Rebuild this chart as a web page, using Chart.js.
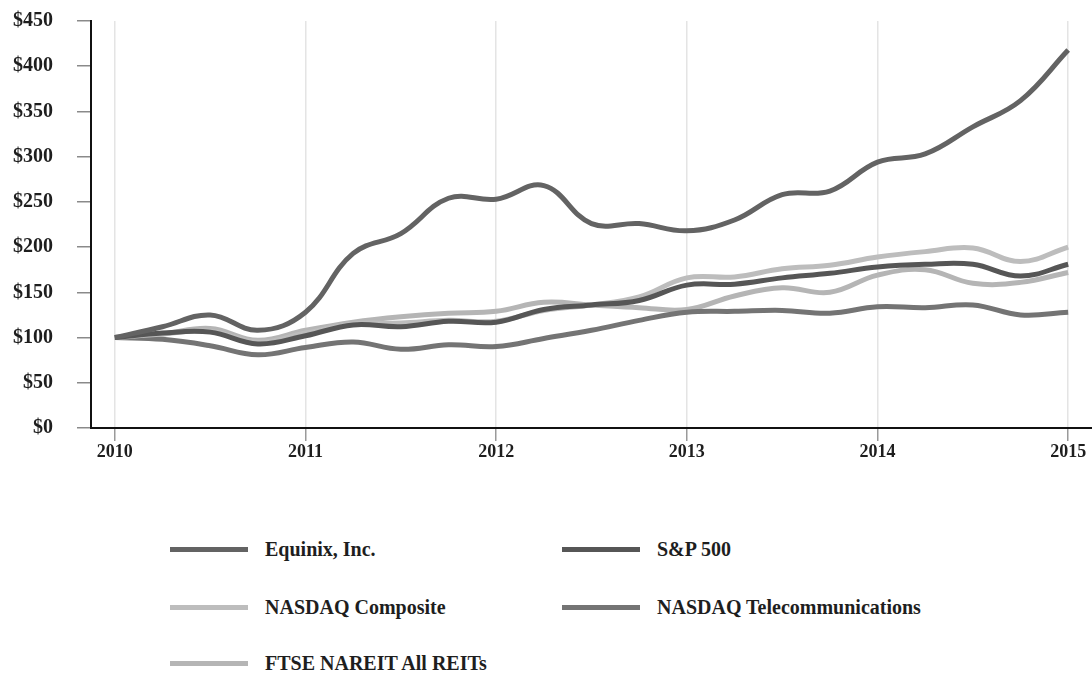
<!DOCTYPE html>
<html>
<head>
<meta charset="utf-8">
<script src="https://cdn.jsdelivr.net/npm/chart.js@4"></script>
<style>
    body { margin: 0; background: #fff; }
    #wrap { position: relative; width: 1092px; height: 677px; overflow: hidden; }
    #chartBox { position: absolute; left: 0; top: 0; width: 1092px; height: 470px; }
    .leg { position: absolute; display: flex; align-items: center;
           font: bold 20px "Liberation Serif", "Times New Roman", serif; color: #1e1e1e; }
    .leg span.line { display: inline-block; width: 78px; height: 5px; margin-right: 17px; }
</style>
</head>
<body>
<div id="wrap">
    <div id="chartBox"><canvas id="perfChart"></canvas></div>
    <div id="legend"></div>
</div>
<script>
// quarterly points, Dec 2009 base = $100
const periods = [
    '2010', '2010 Q1', '2010 Q2', '2010 Q3',
    '2011', '2011 Q1', '2011 Q2', '2011 Q3',
    '2012', '2012 Q1', '2012 Q2', '2012 Q3',
    '2013', '2013 Q1', '2013 Q2', '2013 Q3',
    '2014', '2014 Q1', '2014 Q2', '2014 Q3',
    '2015'
];
const yearLabels = ['2010', '2011', '2012', '2013', '2014', '2015'];

const equinix   = [100, 112, 125, 108, 128, 193, 215, 254, 253, 268, 226, 226, 218, 230, 258, 262, 294, 303, 333, 362, 418];
const sp500     = [100, 105, 106, 93, 102, 114, 112, 118, 117, 131, 136, 141, 158, 159, 166, 171, 178, 181, 181, 168, 181];
const nasdaq    = [100, 104, 107, 95, 105, 115, 116, 119, 118, 130, 136, 145, 166, 167, 176, 180, 189, 195, 199, 184, 200];
const telecom   = [100, 98, 91, 81, 89, 95, 87, 92, 90, 99, 108, 119, 128, 129, 130, 127, 134, 133, 136, 125, 128];
const reits     = [100, 104, 110, 97, 108, 117, 123, 127, 129, 139, 136, 133, 131, 146, 155, 150, 169, 175, 160, 161, 172];

const series = [
    { name: 'Equinix, Inc.', data: equinix, color: '#636363' },
    { name: 'S&P 500', data: sp500, color: '#565656' },
    { name: 'NASDAQ Composite', data: nasdaq, color: '#bdbdbd' },
    { name: 'NASDAQ Telecommunications', data: telecom, color: '#747474' },
    { name: 'FTSE NAREIT All REITs', data: reits, color: '#b5b5b5' }
];

const serif = '"Liberation Serif", "Times New Roman", serif';

function isYear(i) {
    return yearLabels.includes(periods[i]);
}

new Chart(document.getElementById('perfChart'), {
    type: 'line',
    data: {
        labels: periods,
        datasets: series.map(s => ({
            label: s.name,
            data: s.data,
            borderColor: s.color,
            backgroundColor: s.color,
            borderWidth: 5,
            pointRadius: 0,
            tension: 0.4,
            fill: false
        }))
    },
    options: {
        responsive: true,
        maintainAspectRatio: false,
        animation: false,
        layout: { padding: { top: 21, right: 0, left: 0, bottom: 0 } },
        plugins: {
            legend: { display: false },
            tooltip: { enabled: false }
        },
        scales: {
            x: {
                type: 'category',
                offset: true,
                border: { color: '#111', width: 2 },
                grid: {
                    offset: false,
                    color: ctx => isYear(ctx.index) ? '#e4e4e4' : 'rgba(0,0,0,0)',
                    tickColor: ctx => isYear(ctx.index) ? '#9a9a9a' : 'rgba(0,0,0,0)',
                    tickLength: 13,
                    lineWidth: 1.5
                },
                ticks: {
                    autoSkip: false,
                    maxRotation: 0,
                    padding: 1,
                    color: '#1e1e1e',
                    font: { family: serif, size: 18, weight: 'bold' },
                    callback: function(value, index) {
                        return isYear(index) ? periods[index] : '';
                    }
                },
                afterFit: scale => {
                    scale.height = 42;
                    scale.paddingLeft = 0;
                    scale.paddingRight = 0;
                }
            },
            y: {
                min: 0,
                max: 450,
                border: { color: '#111', width: 2 },
                grid: {
                    drawOnChartArea: false,
                    tickColor: '#8a8a8a',
                    tickLength: 14,
                    lineWidth: 1.5
                },
                ticks: {
                    stepSize: 50,
                    padding: 24,
                    color: '#1e1e1e',
                    font: { family: serif, size: 20, weight: 'bold' },
                    callback: v => '$' + v
                },
                afterFit: scale => {
                    scale.width = 91;
                    scale.paddingTop = 0;
                    scale.paddingBottom = 0;
                }
            }
        }
    }
});

// legend in two columns under the chart
const legendPos = [
    { left: 170, top: 550 }, { left: 562, top: 550 },
    { left: 170, top: 608 }, { left: 562, top: 608 },
    { left: 170, top: 664 }
];
const legendBox = document.getElementById('legend');
series.forEach((s, i) => {
    const item = document.createElement('div');
    item.className = 'leg';
    item.style.left = legendPos[i].left + 'px';
    item.style.top = (legendPos[i].top - 12) + 'px';
    item.innerHTML = '<span class="line" style="background:' + s.color + '"></span>';
    item.appendChild(document.createTextNode(s.name));
    legendBox.appendChild(item);
});
</script>
</body>
</html>
